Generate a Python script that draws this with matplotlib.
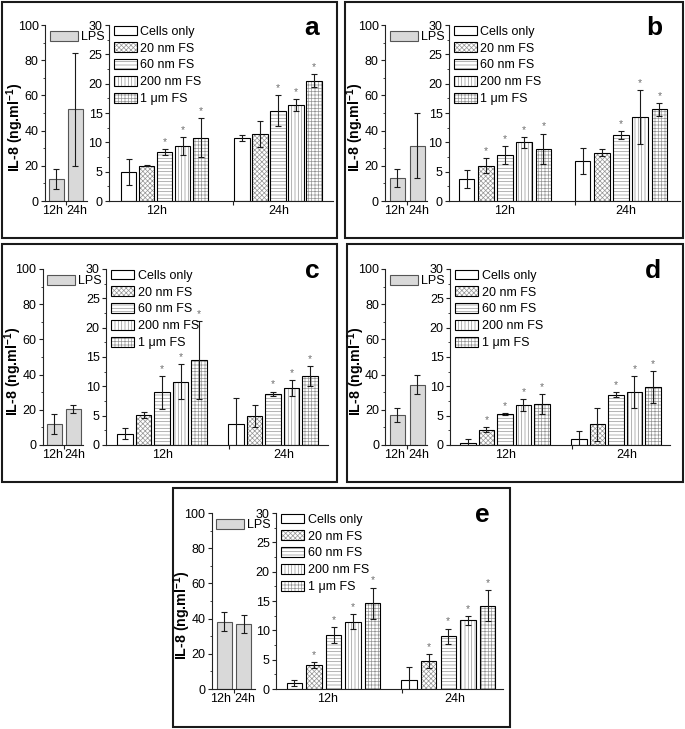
import matplotlib
matplotlib.use('Agg')
import matplotlib.pyplot as plt
from matplotlib.patches import Rectangle, Patch
from matplotlib.ticker import MultipleLocator, FixedLocator
import numpy as np

plt.rcParams['font.family'] = ['Liberation Sans', 'DejaVu Sans']
plt.rcParams['mathtext.fontset'] = 'custom'
plt.rcParams['mathtext.rm'] = 'Liberation Sans'
plt.rcParams['mathtext.bf'] = 'Liberation Sans:bold'
plt.rcParams['hatch.linewidth'] = 0.5

# ---------------- data ----------------
times = ['12h', '24h']
groups = ['Cells only', '20 nm FS', '60 nm FS', '200 nm FS', '1 \u03bcm FS']

lps_a = [12.5, 52.0]
lps_a_err = [5.5, 32.0]
a_12h = [4.9, 6.0, 8.3, 9.4, 10.8]
a_12h_err = [2.2, 0.1, 0.5, 1.5, 3.3]
a_24h = [10.7, 11.4, 15.4, 16.4, 20.5]
a_24h_err = [0.5, 2.2, 2.6, 1.0, 1.1]
a_12h_star = [0, 0, 1, 1, 1]
a_24h_star = [0, 0, 1, 1, 1]

lps_b = [13.0, 31.5]
lps_b_err = [5.0, 18.5]
b_12h = [3.7, 6.0, 7.8, 10.0, 8.9]
b_12h_err = [1.5, 1.3, 1.5, 0.9, 2.6]
b_24h = [6.8, 8.2, 11.2, 14.3, 15.6]
b_24h_err = [2.2, 0.6, 0.7, 4.6, 1.1]
b_12h_star = [0, 1, 1, 1, 1]
b_24h_star = [0, 0, 1, 1, 1]

lps_c = [11.9, 20.5]
lps_c_err = [5.9, 2.2]
c_12h = [1.9, 5.1, 9.0, 10.8, 14.5]
c_12h_err = [0.95, 0.5, 2.8, 3.0, 6.6]
c_24h = [3.6, 5.0, 8.75, 9.7, 11.7]
c_24h_err = [4.4, 1.9, 0.35, 1.3, 1.7]
c_12h_star = [0, 0, 1, 1, 1]
c_24h_star = [0, 0, 1, 1, 1]

lps_d = [17.0, 34.3]
lps_d_err = [4.0, 5.6]
d_12h = [0.3, 2.6, 5.3, 6.8, 6.95]
d_12h_err = [0.8, 0.45, 0.2, 1.0, 1.7]
d_24h = [1.1, 3.5, 8.6, 9.0, 9.9]
d_24h_err = [1.3, 2.85, 0.4, 2.7, 2.7]
d_12h_star = [0, 1, 1, 1, 1]
d_24h_star = [0, 0, 1, 1, 1]

lps_e = [38.3, 37.0]
lps_e_err = [5.5, 5.2]
e_12h = [1.0, 4.1, 9.15, 11.5, 14.6]
e_12h_err = [0.5, 0.45, 1.35, 1.3, 2.7]
e_24h = [1.5, 4.75, 9.0, 11.7, 14.2]
e_24h_err = [2.3, 1.2, 1.3, 0.8, 2.6]
e_12h_star = [0, 1, 1, 1, 1]
e_24h_star = [0, 1, 1, 1, 1]

panel_letters = ['a', 'b', 'c', 'd', 'e']

# ---------------- layout (pixels) ----------------
W, H = 685, 729
# L: x0, x1, ytop, ybot, bar1 centre, bar2 centre, label1 x, label2 x
# R: x0, x1, ytop, ybot, group1 centre, group2 centre, bar step, label1 x, label2 x
layout = {
    'a': dict(box=(2, 2, 337, 238), letter=(312, 28),
              L=(45, 87, 25, 201, 56, 75, 53, 77),
              R=(108.7, 333, 25, 201, 164.5, 278, 18.0, 157, 279)),
    'b': dict(box=(345, 2, 683, 238), letter=(654, 28),
              L=(385, 427, 25, 201, 397, 417, 394.5, 419),
              R=(448.7, 680, 25, 201, 505, 621, 19.2, 504.5, 626)),
    'c': dict(box=(2, 244, 337, 482), letter=(312, 271),
              L=(42.7, 83, 269, 445, 54, 73, 52.5, 75),
              R=(106, 328, 269, 445, 162, 273, 18.5, 162.5, 284)),
    'd': dict(box=(347, 244, 683, 482), letter=(653, 271),
              L=(385.3, 427, 269, 445, 397, 417, 394.5, 419),
              R=(450, 670, 269, 445, 505, 616, 18.5, 506, 626.5)),
    'e': dict(box=(173, 488, 510, 727), letter=(482, 515),
              L=(211.7, 255, 513, 689, 224, 243.5, 221, 245),
              R=(276, 503, 513, 689, 333.5, 448.3, 19.6, 328, 455)),
}
datasets = {
    'a': (lps_a, lps_a_err, a_12h, a_12h_err, a_24h, a_24h_err, a_12h_star, a_24h_star),
    'b': (lps_b, lps_b_err, b_12h, b_12h_err, b_24h, b_24h_err, b_12h_star, b_24h_star),
    'c': (lps_c, lps_c_err, c_12h, c_12h_err, c_24h, c_24h_err, c_12h_star, c_24h_star),
    'd': (lps_d, lps_d_err, d_12h, d_12h_err, d_24h, d_24h_err, d_12h_star, d_24h_star),
    'e': (lps_e, lps_e_err, e_12h, e_12h_err, e_24h, e_24h_err, e_12h_star, e_24h_star),
}

hatches = [None, 'xxxxxxx', '-----', '|||||', '+++++']
hatch_grey = '#959595'
lps_color = '#d9d9d9'
FS = 9

fig = plt.figure(figsize=(W / 100, H / 100), dpi=100)


def add_ax(x0, x1, ytop, ybot):
    return fig.add_axes([x0 / W, 1 - ybot / H, (x1 - x0) / W, (ybot - ytop) / H])


def style_ax(ax):
    for s in ['top', 'right']:
        ax.spines[s].set_visible(False)
    for s in ['left', 'bottom']:
        ax.spines[s].set_linewidth(0.8)
        ax.spines[s].set_color('#222222')
    ax.tick_params(axis='y', which='major', direction='out', length=3, width=0.8,
                   labelsize=FS, pad=1.5, color='#222222')
    ax.tick_params(axis='y', which='minor', direction='out', length=1.6, width=0.6,
                   color='#222222')
    ax.tick_params(axis='x', which='major', length=0, labelsize=FS, pad=3)
    ax.tick_params(axis='x', which='minor', direction='out', length=3, width=0.8,
                   color='#222222')


for key in panel_letters:
    lay = layout[key]
    lps, lps_err, v12, e12, v24, e24, s12, s24 = datasets[key]

    # frame
    bx0, by0, bx1, by1 = lay['box']
    fig.patches.append(Rectangle((bx0 / W, 1 - by1 / H), (bx1 - bx0) / W, (by1 - by0) / H,
                                 transform=fig.transFigure, fill=False,
                                 edgecolor='#1a1a1a', linewidth=1.5))
    fig.text(lay['letter'][0] / W, 1 - lay['letter'][1] / H, key, fontsize=19,
             fontweight='bold', ha='center', va='center')

    # ---- left (LPS) axes ----
    x0, x1, yt, yb, c1, c2, l1, l2 = lay['L']
    unit = c2 - c1
    axl = add_ax(x0, x1, yt, yb)
    style_ax(axl)
    xl = np.arange(len(times))
    axl.bar(xl, lps, width=15 / unit, color=lps_color, edgecolor='#555555', linewidth=0.8,
            label='LPS', zorder=2)
    axl.errorbar(xl, lps, yerr=lps_err, fmt='none', ecolor='#1a1a1a', elinewidth=0.8,
                 capsize=2.5, capthick=0.8, zorder=3)
    axl.set_xlim((x0 - c1) / unit, (x1 - c1) / unit)
    axl.set_ylim(0, 100)
    axl.yaxis.set_major_locator(MultipleLocator(20))
    axl.yaxis.set_minor_locator(MultipleLocator(10))
    axl.set_xticks([(l1 - c1) / unit, (l2 - c1) / unit])
    axl.set_xticklabels(times)
    axl.xaxis.set_minor_locator(FixedLocator([0.5]))
    axl.legend(handles=[Patch(facecolor=lps_color, edgecolor='#555555', linewidth=0.8)],
               labels=['LPS'], loc='upper left',
               bbox_to_anchor=((x0 + 4.5) / W, 1 - (yt + 5.5) / H),
               bbox_transform=fig.transFigure, frameon=False, fontsize=FS,
               handlelength=2.24, handleheight=0.96, handletextpad=0.25,
               borderpad=0, borderaxespad=0)
    fig.text((x0 - 29.5) / W, 1 - (yt + 102) / H, r'IL-8 (ng.ml$^{\mathbf{-1}}$)', rotation=90,
             fontsize=10.2, fontweight='bold', ha='center', va='center')

    # ---- right (FS) axes ----
    x0, x1, yt, yb, c1, c2, step, l1, l2 = lay['R']
    unit = c2 - c1
    axr = add_ax(x0, x1, yt, yb)
    style_ax(axr)
    bw = 15.5 / unit
    for i, g in enumerate(groups):
        xs = np.arange(len(times)) + (i - 2) * step / unit
        vals = [v12[i], v24[i]]
        errs = [e12[i], e24[i]]
        stars = [s12[i], s24[i]]
        if hatches[i] is None:
            axr.bar(xs, vals, width=bw, color='white', linewidth=0, zorder=2)
        else:
            axr.bar(xs, vals, width=bw, color='white', edgecolor=hatch_grey,
                    hatch=hatches[i], linewidth=0, zorder=2)
        axr.bar(xs, vals, width=bw, fill=False, edgecolor='black', linewidth=0.8, zorder=2.5)
        axr.errorbar(xs, vals, yerr=errs, fmt='none', ecolor='#1a1a1a', elinewidth=0.8,
                     capsize=2.5, capthick=0.8, zorder=3)
        for xx, vv, ee, st in zip(xs, vals, errs, stars):
            if st:
                axr.annotate('*', (xx, vv + ee), xytext=(0, 1.5), textcoords='offset points',
                             ha='center', va='bottom', fontsize=7.5, color='#6e6e6e',
                             annotation_clip=False)
    axr.set_xlim((x0 - c1) / unit, (x1 - c1) / unit)
    axr.set_ylim(0, 30)
    axr.yaxis.set_major_locator(MultipleLocator(5))
    axr.yaxis.set_minor_locator(MultipleLocator(2.5))
    axr.set_xticks([(l1 - c1) / unit, (l2 - c1) / unit])
    axr.set_xticklabels(times)
    axr.xaxis.set_minor_locator(FixedLocator([0.6]))

    handles = []
    for i, g in enumerate(groups):
        if hatches[i] is None:
            handles.append(Patch(facecolor='white', edgecolor='black', linewidth=0.8))
        else:
            handles.append((Patch(facecolor='white', edgecolor=hatch_grey, hatch=hatches[i],
                                  linewidth=0),
                            Patch(facecolor='none', edgecolor='black', linewidth=0.8)))
    axr.legend(handles=handles, labels=groups, loc='upper left',
               bbox_to_anchor=((x0 + 5) / W, 1 - (yt + 0.5) / H),
               bbox_transform=fig.transFigure, frameon=False, fontsize=FS,
               handlelength=1.84, handleheight=0.85, handletextpad=0.3,
               labelspacing=0.36, borderpad=0, borderaxespad=0)

fig.savefig('out.png', dpi=100)
